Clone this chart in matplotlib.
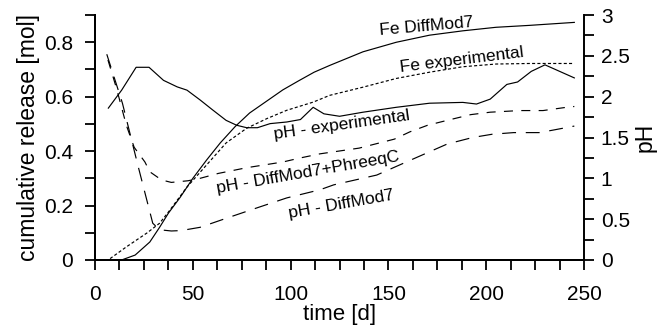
import matplotlib
matplotlib.use("Agg")
import matplotlib.pyplot as plt
from matplotlib.ticker import MultipleLocator

plt.rcParams['font.family'] = ['Liberation Sans', 'DejaVu Sans']
plt.rcParams['lines.scale_dashes'] = False

# Fe cumulative release [mol]
fe_model_t = [7, 13.6, 20.5, 28, 33, 37.5, 43.5, 50, 57, 64, 71.6, 79, 88, 96, 104, 112, 120, 137, 154, 171, 188, 205, 222, 245]
fe_model = [0, 0, 0.018, 0.066, 0.12, 0.172, 0.23, 0.30, 0.367, 0.43, 0.49, 0.54, 0.585, 0.625, 0.658, 0.69, 0.715, 0.765, 0.80, 0.826, 0.842, 0.855, 0.862, 0.873]

fe_exp_t = [7.7, 16, 26.5, 33, 37.5, 47, 57, 67, 77.5, 88, 98, 111.5, 120, 137, 154, 171, 188, 205, 222, 245]
fe_exp = [0.005, 0.048, 0.099, 0.135, 0.176, 0.268, 0.349, 0.43, 0.484, 0.52, 0.55, 0.58, 0.605, 0.635, 0.667, 0.69, 0.71, 0.72, 0.722, 0.722]

# pH
ph_exp_t = [6.8, 13.6, 21, 27.6, 35, 42, 47, 53.7, 60, 67, 72.4, 77.5, 83, 89.5, 98, 105, 111.5, 117,
            125, 137, 154, 171, 188, 195, 202, 210.5, 216, 223, 230, 245]
ph_exp = [1.86, 2.08, 2.36, 2.36, 2.20, 2.12, 2.08, 1.96, 1.84, 1.71, 1.65, 1.62, 1.62, 1.67, 1.69, 1.72, 1.87, 1.79,
          1.76, 1.81, 1.87, 1.92, 1.93, 1.91, 1.97, 2.15, 2.18, 2.31, 2.39, 2.23]

ph_phreeqc_t = [6.6, 11, 16, 20, 25.5, 28, 34, 39, 47.5, 53.7, 63, 77.5, 96, 105, 115, 135, 153, 161, 170, 180,
                192, 202, 217, 229, 241, 245]
ph_phreeqc = [2.45, 2.10, 1.65, 1.38, 1.20, 1.08, 0.98, 0.95, 0.97, 1.00, 1.06, 1.13, 1.20, 1.25, 1.30, 1.37, 1.48,
              1.57, 1.65, 1.71, 1.78, 1.81, 1.83, 1.83, 1.87, 1.88]

ph_model_t = [6, 14, 22, 29.5, 33, 39, 44, 53.7, 67, 83, 98, 115, 122, 144, 161, 180, 193, 203, 214, 227, 234, 245]
ph_model = [2.52, 1.92, 1.15, 0.45, 0.37, 0.355, 0.36, 0.40, 0.51, 0.64, 0.76, 0.86, 0.92, 1.04, 1.22, 1.42, 1.50,
            1.54, 1.56, 1.56, 1.59, 1.64]

fig = plt.figure(figsize=(6.6, 3.27), dpi=100)
ax = fig.add_axes([0.144, 0.205, 0.741, 0.749])
ax2 = ax.twinx()

lw = 0.85
ax.plot(fe_model_t, fe_model, color='k', lw=lw)
ax.plot(fe_exp_t, fe_exp, color='k', lw=lw, linestyle=(0, (2.2, 1.6)))
ax2.plot(ph_exp_t, ph_exp, color='k', lw=lw)
ax2.plot(ph_phreeqc_t, ph_phreeqc, color='k', lw=lw, linestyle=(0, (6.5, 6)))
ax2.plot(ph_model_t, ph_model, color='k', lw=lw, linestyle=(0, (10, 7)))

ax.set_xlim(0, 250)
ax.set_ylim(0, 0.9)
ax2.set_ylim(0, 3)

ax.xaxis.set_major_locator(MultipleLocator(50))
ax.xaxis.set_minor_locator(MultipleLocator(12.5))
ax.yaxis.set_minor_locator(MultipleLocator(0.1))
ax2.yaxis.set_minor_locator(MultipleLocator(0.25))
ax.set_yticks([0, 0.2, 0.4, 0.6, 0.8])
ax.set_yticklabels(['0', '0.2', '0.4', '0.6', '0.8'])
ax2.set_yticks([0, 0.5, 1, 1.5, 2, 2.5, 3])
ax2.set_yticklabels(['0', '0.5', '1', '1.5', '2', '2.5', '3'])

for a in (ax, ax2):
    a.spines['top'].set_visible(False)
    for s in a.spines.values():
        s.set_linewidth(1.4)
    a.tick_params(which='both', direction='out', length=7, width=1.3, labelsize=15)
ax.tick_params(axis='x', pad=11)
ax.tick_params(axis='y', pad=9)
ax2.tick_params(axis='y', pad=5)
ax.spines['right'].set_visible(False)

ax.set_xlabel('time [d]', fontsize=16, labelpad=0)
ax.set_ylabel('cumulative release [mol]', fontsize=16.5, labelpad=3)
ax2.set_ylabel('pH', fontsize=16.5, labelpad=3)

tk = dict(fontsize=12.5, ha='center', va='center', rotation_mode='anchor')
ax.text(169.5, 0.86, 'Fe DiffMod7', rotation=5, **tk)
ax.text(187.5, 0.734, 'Fe experimental', rotation=7, **tk)
ax.text(126, 0.497, 'pH - experimental', rotation=8, **tk)
ax.text(109, 0.323, 'pH - DiffMod7+PhreeqC', rotation=10, **tk)
ax.text(126, 0.205, 'pH - DiffMod7', rotation=10, **tk)

fig.savefig('out.png', dpi=100)
